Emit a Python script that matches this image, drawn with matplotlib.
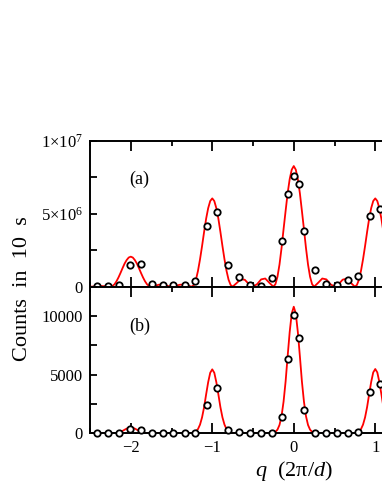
import numpy as np
import matplotlib
matplotlib.use("Agg")
from matplotlib import pyplot as plt
from matplotlib.ticker import FixedLocator, FixedFormatter, MultipleLocator

plt.rcParams["font.family"] = ["Liberation Serif", "DejaVu Serif"]
plt.rcParams["mathtext.fontset"] = "custom"
plt.rcParams["mathtext.rm"] = "Liberation Serif"
plt.rcParams["mathtext.it"] = "Liberation Serif:italic"

# measured points (same q positions in both panels)
q_data = [-2.41, -2.28, -2.15, -2.01, -1.87, -1.74, -1.61, -1.48, -1.34, -1.21,
          -1.07, -0.94, -0.81, -0.67, -0.54, -0.40, -0.27, -0.14, -0.074, 0.0,
          0.065, 0.13, 0.265, 0.40, 0.53, 0.66, 0.79, 0.93, 1.06]
# panel (a), in units of 1e6 counts
counts_a = [0.05, 0.05, 0.10, 1.51, 1.53, 0.18, 0.11, 0.09, 0.11, 0.39,
            4.14, 5.13, 1.51, 0.66, 0.14, 0.07, 0.62, 3.16, 6.34, 7.60,
            7.03, 3.80, 1.12, 0.20, 0.14, 0.46, 0.73, 4.85, 5.31]
# panel (b), counts
counts_b = [50, 50, 50, 340, 310, 50, 50, 50, 50, 50,
            2400, 3850, 280, 110, 50, 50, 50, 1390, 6360, 10080,
            8150, 1990, 50, 50, 50, 50, 110, 3490, 4170]

# fitted curves
q_fit = [-2.5, -2.45, -2.4, -2.35, -2.3,
         -2.25, -2.225, -2.2, -2.175, -2.15, -2.125, -2.1, -2.075, -2.05, -2.025,
         -2.0, -1.975, -1.95, -1.925, -1.9, -1.875, -1.85, -1.825, -1.8, -1.775,
         -1.75, -1.7, -1.65, -1.6, -1.55, -1.5, -1.45, -1.4, -1.35, -1.3,
         -1.25, -1.225, -1.2, -1.175, -1.15, -1.125, -1.1, -1.075, -1.05, -1.025,
         -1.0, -0.975, -0.95, -0.925, -0.9, -0.875, -0.85, -0.825, -0.8, -0.775,
         -0.75, -0.7, -0.65, -0.6, -0.55, -0.5, -0.45, -0.4, -0.35, -0.3,
         -0.25, -0.225, -0.2, -0.175, -0.15, -0.125, -0.1, -0.075, -0.05, -0.025,
         0.0, 0.025, 0.05, 0.075, 0.1, 0.125, 0.15, 0.175, 0.2, 0.225,
         0.25, 0.3, 0.35, 0.4, 0.45, 0.5, 0.55, 0.6, 0.65, 0.7,
         0.75, 0.775, 0.8, 0.825, 0.85, 0.875, 0.9, 0.925, 0.95, 0.975,
         1.0, 1.025, 1.05, 1.075, 1.1, 1.125, 1.15, 1.175, 1.2, 1.225, 1.25]
fit_a = [0.0, 0.01, 0.03, 0.04, 0.02,
         0.0, 0.04, 0.16, 0.37, 0.64, 0.95, 1.28, 1.59, 1.83, 2.00,
         2.06, 2.00, 1.83, 1.59, 1.28, 0.95, 0.64, 0.37, 0.16, 0.04,
         0.0, 0.07, 0.14, 0.13, 0.05, 0.0, 0.05, 0.13, 0.15, 0.07,
         0.0, 0.12, 0.48, 1.09, 1.88, 2.79, 3.76, 4.67, 5.39, 5.88,
         6.06, 5.88, 5.39, 4.67, 3.76, 2.79, 1.88, 1.09, 0.48, 0.12,
         0.0, 0.25, 0.52, 0.47, 0.17, 0.0, 0.17, 0.50, 0.56, 0.27,
         0.0, 0.17, 0.68, 1.52, 2.65, 3.95, 5.20, 6.42, 7.38, 8.03,
         8.28, 8.03, 7.38, 6.42, 5.20, 3.95, 2.65, 1.52, 0.68, 0.17,
         0.0, 0.27, 0.56, 0.50, 0.17, 0.0, 0.17, 0.48, 0.55, 0.26,
         0.0, 0.12, 0.48, 1.09, 1.88, 2.79, 3.76, 4.67, 5.39, 5.88,
         6.06, 5.88, 5.39, 4.67, 3.76, 2.79, 1.88, 1.09, 0.48, 0.12, 0.0]
fit_b = [0, 0, 0, 0, 0,
         0, 5, 15, 33, 68, 125, 205, 305, 400, 473,
         500, 473, 400, 305, 205, 125, 68, 33, 15, 5,
         0, 0, 0, 0, 0, 0, 0, 0, 0, 0,
         20, 60, 160, 360, 740, 1360, 2230, 3320, 4360, 5160,
         5450, 5160, 4360, 3320, 2230, 1360, 740, 360, 160, 60,
         20, 0, 0, 0, 0, 0, 0, 0, 0, 0,
         40, 120, 310, 710, 1460, 2700, 4420, 6580, 8630, 10210,
         10790, 10210, 8630, 6580, 4420, 2700, 1460, 710, 310, 120,
         40, 0, 0, 0, 0, 0, 0, 0, 0, 0,
         20, 60, 160, 360, 740, 1360, 2240, 3340, 4380, 5190,
         5480, 5190, 4380, 3340, 2240, 1360, 740, 360, 160, 60, 20]

fig = plt.figure(figsize=(3.82, 4.94), dpi=100)
# axes run past the right edge, as in the cropped original
ax_a = fig.add_axes([0.2356, 0.4197, 1.0668, 0.2949])
ax_b = fig.add_axes([0.2356, 0.1229, 1.0668, 0.2968])

for ax in (ax_a, ax_b):
    ax.set_xlim(-2.5, 2.5)
    ax.xaxis.set_major_locator(MultipleLocator(1))
    ax.xaxis.set_minor_locator(MultipleLocator(0.5))
    ax.tick_params(which="both", direction="in", top=True, right=True,
                   width=1.3, labelsize=12, pad=5)
    ax.tick_params(axis="x", which="major", length=7)
    ax.tick_params(axis="x", which="minor", length=3.5)
    ax.tick_params(axis="y", which="both", length=5)
    for s in ax.spines.values():
        s.set_linewidth(1.4)

ax_a.plot(q_fit, np.array(fit_a) * 1e6, color="#ff0000", lw=1.3, zorder=2)
ax_a.plot(q_data, np.array(counts_a) * 1e6, "o", ms=4.6, mfc="white",
          mec="black", mew=1.3, clip_on=False, zorder=4)
ax_a.set_ylim(0, 1e7)
ax_a.yaxis.set_major_locator(FixedLocator([0, 5e6, 1e7]))
ax_a.yaxis.set_major_formatter(FixedFormatter(["0", r"5$\times$10$^{6}$", r"1$\times$10$^{7}$"]))
ax_a.yaxis.set_minor_locator(MultipleLocator(2.5e6))
ax_a.set_xticklabels([])
ax_a.text(-1.89, 7.4e6, "(a)", fontsize=13, ha="center", va="center")

ax_b.plot(q_fit, fit_b, color="#ff0000", lw=1.3, zorder=2)
ax_b.plot(q_data, counts_b, "o", ms=4.6, mfc="white",
          mec="black", mew=1.3, clip_on=False, zorder=4)
ax_b.set_ylim(0, 12500)
ax_b.yaxis.set_major_locator(MultipleLocator(5000))
ax_b.yaxis.set_minor_locator(MultipleLocator(2500))
ax_b.set_xticks([-2, -1, 0, 1, 2])
ax_b.set_xticklabels(["\u22122", "\u22121", "0", "1", "2"])
ax_b.text(-1.89, 9140, "(b)", fontsize=13, ha="center", va="center")
ax_b.set_xlabel(r"$q$  (2\u03c0/$d$)".replace("\\u03c0", "\u03c0"), fontsize=16, labelpad=2)

fig.text(23 / 382, 1 - 289 / 494, "Counts  in  10  s", rotation=90,
         fontsize=16, ha="center", va="center")

fig.savefig("out.png", dpi=100)
